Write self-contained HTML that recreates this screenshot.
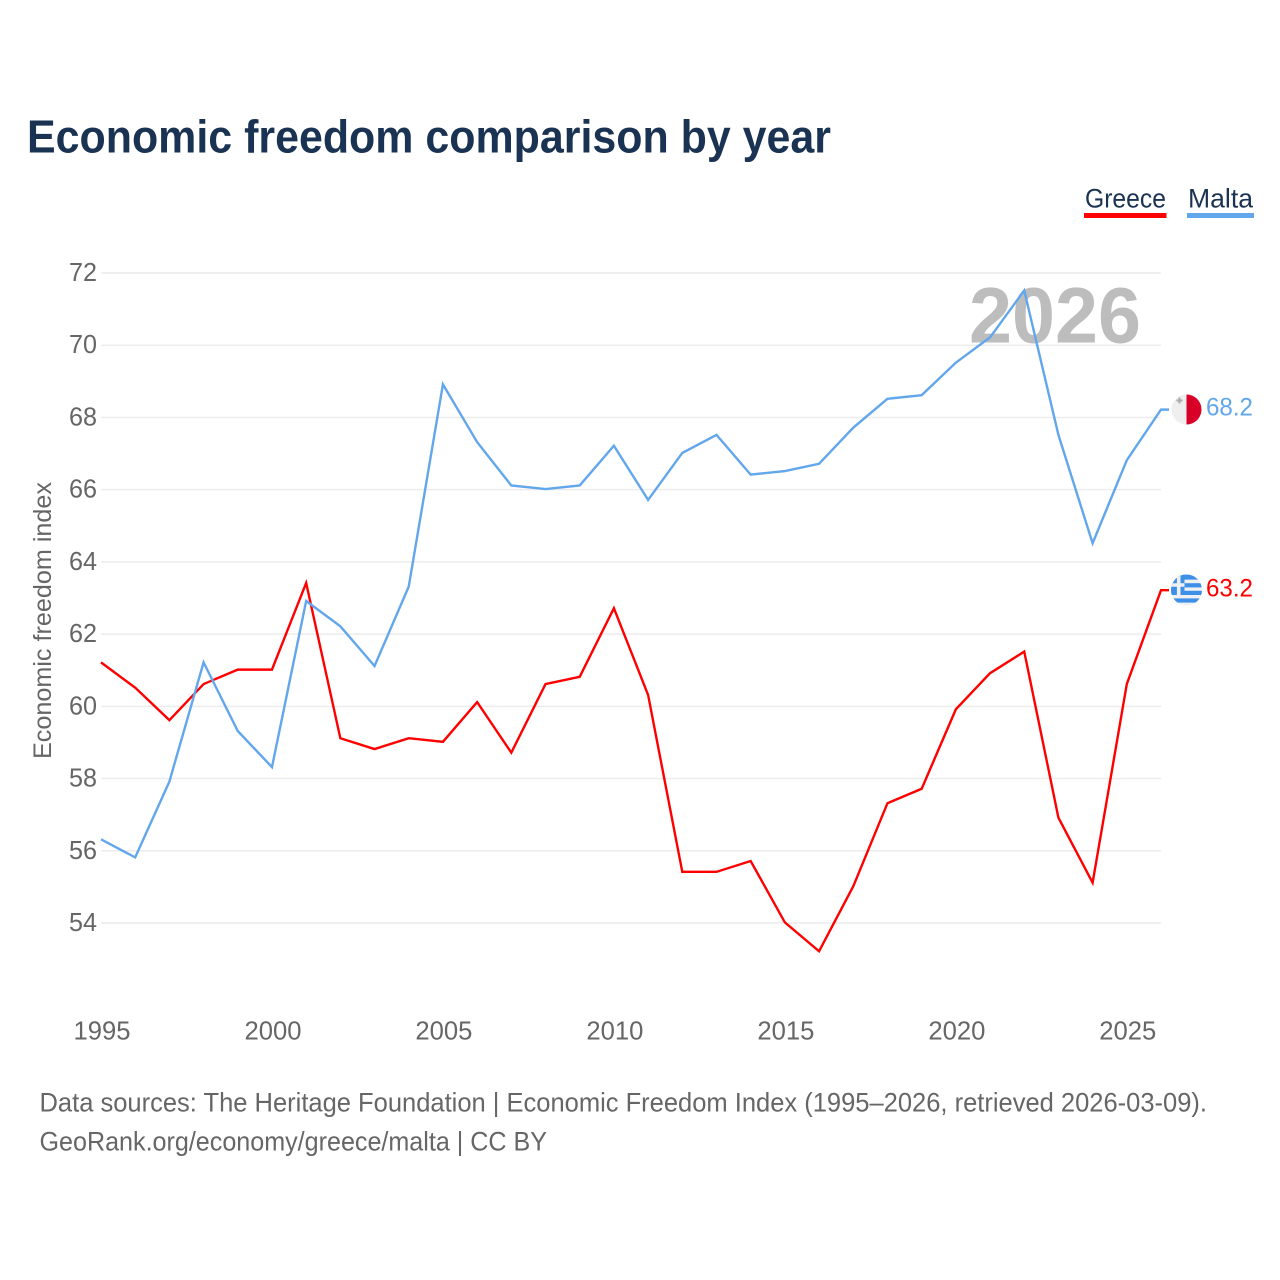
<!DOCTYPE html>
<html lang="en">
<head>
<meta charset="utf-8">
<title>Economic freedom comparison by year</title>
<style>
html,body{margin:0;padding:0;background:#fff;width:1280px;height:1280px;overflow:hidden}
svg{display:block;font-family:"Liberation Sans",sans-serif}
</style>
</head>
<body>
<svg id="chart" width="1280" height="1280" viewBox="0 0 1280 1280" xmlns="http://www.w3.org/2000/svg">
  <defs>
    <clipPath id="malta-clip"><circle cx="1186.5" cy="409.5" r="15"/></clipPath>
    <clipPath id="greece-clip"><circle cx="1186.5" cy="590" r="15.5"/></clipPath>
  </defs>
  <rect width="1280" height="1280" fill="#fff"/>
  <text x="27" y="152.5" font-size="46" font-weight="700" fill="#1a3352" textLength="804" lengthAdjust="spacingAndGlyphs">Economic freedom comparison by year</text>

  <g>
    <g>
      <text x="1085" y="207.5" font-size="27" fill="#1a3352" textLength="81" lengthAdjust="spacingAndGlyphs">Greece</text>
      <rect x="1084" y="213" width="82.5" height="5" fill="#ff0000"/>
    </g>
    <g>
      <text x="1188" y="207.5" font-size="27" fill="#1a3352" textLength="65" lengthAdjust="spacingAndGlyphs">Malta</text>
      <rect x="1187" y="213" width="67" height="5" fill="#62a6ec"/>
    </g>
  </g>

  <g id="grid"></g>
  <g id="y-axis"></g>
  <g id="x-axis"></g>

  <text transform="translate(51,759) rotate(-90)" font-size="25" fill="#666" textLength="277" lengthAdjust="spacingAndGlyphs">Economic freedom index</text>

  <text x="969" y="342.5" font-size="79" font-weight="700" fill="#bdbdbd" textLength="172" lengthAdjust="spacingAndGlyphs">2026</text>

  <g id="series" transform="translate(0,-0.6)"></g>

  <g clip-path="url(#malta-clip)">
    <rect x="1171" y="394" width="16" height="31" fill="#efefef"/>
    <rect x="1186.5" y="394" width="16" height="31" fill="#d80027"/>
    <path d="M1179.5 397.5v6M1176.5 400.5h6" stroke="#aaa" stroke-width="2" fill="none"/>
  </g>
  <text x="1206" y="415.5" font-size="25" fill="#62a6ec" textLength="47" lengthAdjust="spacingAndGlyphs">68.2</text>

  <g clip-path="url(#greece-clip)">
    <rect x="1171" y="574" width="32" height="32" fill="#eef0f2"/>
    <rect x="1171" y="574" width="32" height="5.6" fill="#3d8fe8"/>
    <rect x="1171" y="583.2" width="32" height="4.2" fill="#3d8fe8"/>
    <rect x="1171" y="590.8" width="32" height="4.2" fill="#3d8fe8"/>
    <rect x="1171" y="598.4" width="32" height="4.2" fill="#3d8fe8"/>
    <rect x="1171" y="574" width="13.5" height="21" fill="#3d8fe8"/>
    <path d="M1178.7 574v21M1171 585h13.5" stroke="#eef0f2" stroke-width="3.6" fill="none"/>
  </g>
  <text x="1206" y="596.5" font-size="25" fill="#ff0000" textLength="47" lengthAdjust="spacingAndGlyphs">63.2</text>

  <text x="39.5" y="1111.5" font-size="27" fill="#666" textLength="1167.5" lengthAdjust="spacingAndGlyphs">Data sources: The Heritage Foundation | Economic Freedom Index (1995–2026, retrieved 2026-03-09).</text>
  <text x="39.5" y="1150.5" font-size="27" fill="#666" textLength="507.5" lengthAdjust="spacingAndGlyphs">GeoRank.org/economy/greece/malta | CC BY</text>
</svg>
<script>
var years = [1995,1996,1997,1998,1999,2000,2001,2002,2003,2004,2005,2006,2007,2008,2009,2010,2011,2012,2013,2014,2015,2016,2017,2018,2019,2020,2021,2022,2023,2024,2025,2026];
var greeceValues = [61.2,60.5,59.6,60.6,61.0,61.0,63.4,59.1,58.8,59.1,59.0,60.1,58.7,60.6,60.8,62.7,60.3,55.4,55.4,55.7,54.0,53.2,55.0,57.3,57.7,59.9,60.9,61.5,56.9,55.1,60.6,63.2];
var maltaValues = [56.3,55.8,57.9,61.2,59.3,58.3,62.9,62.2,61.1,63.3,68.9,67.3,66.1,66.0,66.1,67.2,65.7,67.0,67.5,66.4,66.5,66.7,67.7,68.5,68.6,69.5,70.2,71.5,67.5,64.5,66.8,68.2];
var yTicks = [54,56,58,60,62,64,66,68,70,72];
var xTicks = [1995,2000,2005,2010,2015,2020,2025];

var NS = 'http://www.w3.org/2000/svg';
function xScale(year) { return 101 + (year - 1995) * (1161 - 101) / (2026 - 1995); }
function yScale(value) { return 923 - (value - 54) * (923 - 273) / (72 - 54); }

var gridGroup = document.getElementById('grid');
var yAxisGroup = document.getElementById('y-axis');
var xAxisGroup = document.getElementById('x-axis');
var seriesGroup = document.getElementById('series');

yTicks.forEach(function (tick) {
  var line = document.createElementNS(NS, 'line');
  line.setAttribute('x1', xScale(1995));
  line.setAttribute('x2', xScale(2026));
  line.setAttribute('y1', yScale(tick));
  line.setAttribute('y2', yScale(tick));
  line.setAttribute('stroke', '#ececec');
  line.setAttribute('stroke-width', '1.5');
  
  
  gridGroup.appendChild(line);

  var label = document.createElementNS(NS, 'text');
  label.setAttribute('x', 69);
  label.setAttribute('y', yScale(tick) + 8);
  label.setAttribute('font-size', '26');
  label.setAttribute('fill', '#666');
  label.setAttribute('textLength', '28');
  label.setAttribute('lengthAdjust', 'spacingAndGlyphs');
  label.textContent = String(tick);
  
  
  yAxisGroup.appendChild(label);
});

xTicks.forEach(function (tick) {
  var label = document.createElementNS(NS, 'text');
  label.setAttribute('x', xScale(tick) - 27.5);
  label.setAttribute('y', 1039.5);
  label.setAttribute('font-size', '26');
  label.setAttribute('fill', '#666');
  label.setAttribute('textLength', '57');
  label.setAttribute('lengthAdjust', 'spacingAndGlyphs');
  label.textContent = String(tick);
  
  
  xAxisGroup.appendChild(label);
});

function linePath(values) {
  var d = values.map(function (value, i) {
    return (i ? 'L' : 'M') + xScale(years[i]).toFixed(2) + ' ' + yScale(value).toFixed(2);
  }).join(' ');
  var last = values[values.length - 1];
  return d + ' L' + (xScale(years[years.length - 1]) + 8).toFixed(2) + ' ' + yScale(last).toFixed(2);
}

var greeceLine = document.createElementNS(NS, 'path');
greeceLine.setAttribute('d', linePath(greeceValues));
greeceLine.setAttribute('fill', 'none');
greeceLine.setAttribute('stroke', '#ff0000');
greeceLine.setAttribute('stroke-width', '2.4');


seriesGroup.appendChild(greeceLine);

var maltaLine = document.createElementNS(NS, 'path');
maltaLine.setAttribute('d', linePath(maltaValues));
maltaLine.setAttribute('fill', 'none');
maltaLine.setAttribute('stroke', '#62a6ec');
maltaLine.setAttribute('stroke-width', '2.4');


seriesGroup.appendChild(maltaLine);
</script>
</body>
</html>
